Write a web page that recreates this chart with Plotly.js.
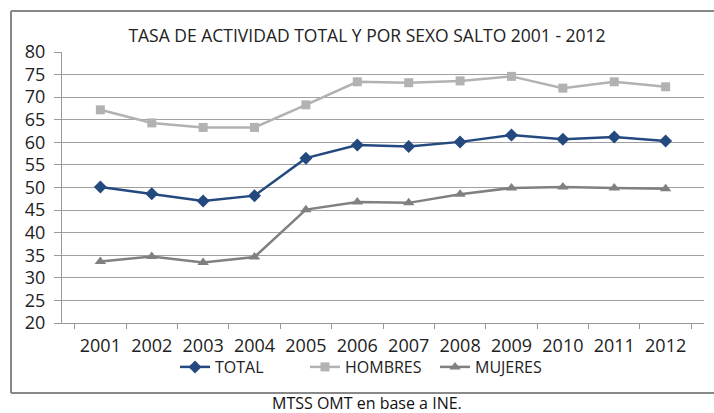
<!DOCTYPE html>
<html>
<head>
<meta charset="utf-8">
<script src="https://cdn.plot.ly/plotly-3.0.1.min.js"></script>
<style>
html,body{margin:0;padding:0;background:#fff;}
#chart{width:714px;height:413px;}
</style>
</head>
<body>
<div id="chart"></div>
<script>
const years = ["2001","2002","2003","2004","2005","2006","2007","2008","2009","2010","2011","2012"];
const total = [50.1, 48.6, 47.0, 48.2, 56.5, 59.4, 59.1, 60.1, 61.6, 60.7, 61.2, 60.3];
const hombres = [67.2, 64.3, 63.3, 63.3, 68.3, 73.4, 73.2, 73.6, 74.6, 72.0, 73.4, 72.3];
const mujeres = [33.6, 34.7, 33.4, 34.6, 45.1, 46.8, 46.6, 48.5, 49.9, 50.1, 49.9, 49.7];
const yTicks = [20,25,30,35,40,45,50,55,60,65,70,75,80];

const FONT = "Open Sans, sans-serif";
const W = 714, H = 413, L = 62, R = 10, T = 52, B = 90;
const pw = W - L - R, ph = H - T - B;
const px = x => (x - L) / pw;
const py = y => (H - B - y) / ph;

const traces = [
  {x: years, y: total, name: "TOTAL", type: "scatter", mode: "lines+markers",
   line: {color: "#24497E", width: 2.5}, marker: {symbol: "diamond", size: 10, color: "#24497E"}},
  {x: years, y: hombres, name: "HOMBRES", type: "scatter", mode: "lines+markers",
   line: {color: "#B2B2B2", width: 2.5}, marker: {symbol: "square", size: 9, color: "#B2B2B2"}},
  {x: years, y: mujeres, name: "MUJERES", type: "scatter", mode: "lines+markers",
   line: {color: "#808080", width: 2.5}, marker: {symbol: "triangle-up", size: 10, color: "#808080"}}
];

const layout = {
  width: W, height: H,
  margin: {l: L, r: R, t: T, b: B, pad: 0},
  paper_bgcolor: "#fff", plot_bgcolor: "#fff",
  font: {family: FONT, color: "#222", size: 17},
  showlegend: true,
  title: {text: "TASA DE ACTIVIDAD TOTAL Y POR SEXO SALTO 2001 - 2012",
          font: {family: FONT, size: 17.5, color: "#222"},
          x: px(367), xanchor: "center", xref: "paper", y: 1 - 36 / H, yanchor: "middle"},
  xaxis: {type: "category", tickvals: years, ticktext: years,
          showline: true, linecolor: "#999", linewidth: 1,
          ticks: "outside", tickson: "boundaries", ticklen: 5, tickcolor: "#999",
          ticklabelstandoff: 6,
          showgrid: false, zeroline: false, fixedrange: true,
          tickfont: {family: FONT, size: 18, color: "#222"}},
  yaxis: {range: [20, 80], tickvals: yTicks, ticktext: yTicks.map(String),
          showline: true, linecolor: "#999", linewidth: 1,
          ticks: "outside", ticklen: 7, tickcolor: "#999",
          ticklabelstandoff: 5,
          showgrid: true, gridcolor: "#A0A0A0", gridwidth: 1, zeroline: false, fixedrange: true,
          tickfont: {family: FONT, size: 18, color: "#222"}},
  legend: {orientation: "h", x: px(370), xanchor: "center", y: py(367), yanchor: "middle",
           entrywidth: 85, entrywidthmode: "pixels",
           font: {family: FONT, size: 16, color: "#222"}, bgcolor: "rgba(0,0,0,0)"},
  shapes: [
    {type: "line", xref: "paper", yref: "paper", x0: px(11), x1: px(714), y0: py(11), y1: py(11), line: {color: "#888", width: 2}},
    {type: "line", xref: "paper", yref: "paper", x0: px(11), x1: px(11), y0: py(11), y1: py(393), line: {color: "#888", width: 2}},
    {type: "line", xref: "paper", yref: "paper", x0: px(11), x1: px(714), y0: py(393), y1: py(393), line: {color: "#888", width: 2}}
  ],
  annotations: [
    {text: "MTSS OMT en base a INE.", xref: "paper", yref: "paper", x: px(367), y: py(403),
     xanchor: "center", yanchor: "middle", showarrow: false, font: {family: FONT, size: 16, color: "#111"}}
  ]
};

Plotly.newPlot("chart", traces, layout, {displayModeBar: false, staticPlot: true});
</script>
</body>
</html>
